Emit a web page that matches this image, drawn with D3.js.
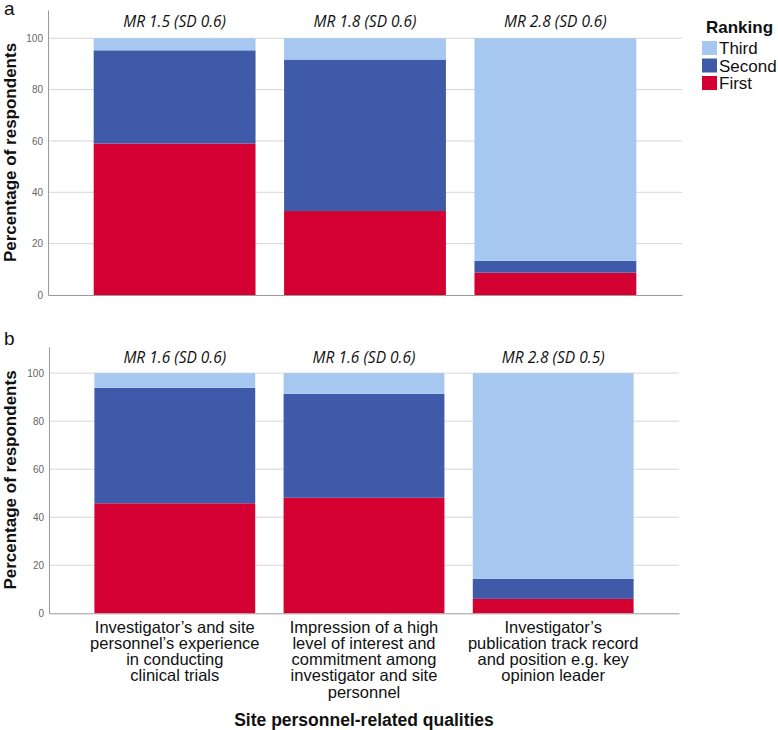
<!DOCTYPE html>
<html>
<head>
<meta charset="utf-8">
<script src="https://cdn.jsdelivr.net/npm/d3@7"></script>
<style>
  body { margin: 0; background: #fff; }
  svg { display: block; font-family: "Liberation Sans", Arial, sans-serif; }
</style>
</head>
<body>
<div id="chart"></div>
<script>
// data
var qualities = ["experience", "interest", "publication"];
var xLabelLines = [
  ["Investigator\u2019s and site", "personnel\u2019s experience", "in conducting", "clinical trials"],
  ["Impression of a high", "level of interest and", "commitment among", "investigator and site", "personnel"],
  ["Investigator\u2019s", "publication track record", "and position e.g. key", "opinion leader"]
];
var rankings = ["First", "Second", "Third"];
var rankColors = ["#d50032", "#3e5aa8", "#a6c8f0"];

// panel a
var firstA  = [59.0, 32.7, 8.7];
var secondA = [36.3, 59.0, 4.6];
var thirdA  = [4.7, 8.3, 86.7];
var mrA = ["MR 1.5 (SD 0.6)", "MR 1.8 (SD 0.6)", "MR 2.8 (SD 0.6)"];

// panel b
var firstB  = [45.8, 48.1, 6.0];
var secondB = [48.1, 43.3, 8.4];
var thirdB  = [6.1, 8.6, 85.6];
var mrB = ["MR 1.6 (SD 0.6)", "MR 1.6 (SD 0.6)", "MR 2.8 (SD 0.5)"];

var yTicks = [0, 20, 40, 60, 80, 100];

var svg = d3.select("#chart").append("svg")
    .attr("width", 778)
    .attr("height", 730);

function drawPanel(letter, first, second, third, mr, box) {
  var rows = qualities.map(function(q, i) {
    return {q: q, First: first[i], Second: second[i], Third: third[i]};
  });

  var x = d3.scaleBand()
      .domain(qualities)
      .range([box.left, box.right])
      .paddingInner(0.15)
      .paddingOuter(0.24);

  var y = d3.scaleLinear()
      .domain([0, 111])
      .range([box.bottom, box.top]);

  // grid lines
  svg.append("g")
    .selectAll("line")
    .data(yTicks.slice(1))
    .enter()
    .append("line")
      .attr("x1", box.left)
      .attr("x2", box.right)
      .attr("y1", function(d) { return y(d); })
      .attr("y2", function(d) { return y(d); })
      .style("stroke", "#d6d6d6")
      .style("stroke-width", 1);

  var stacked = d3.stack().keys(rankings)(rows);

  svg.append("g")
    .selectAll("g")
    .data(stacked)
    .enter()
    .append("g")
      .style("fill", function(d, i) { return rankColors[i]; })
    .selectAll("rect")
    .data(function(d) { return d; })
    .enter()
    .append("rect")
      .attr("x", function(d) { return x(d.data.q); })
      .attr("width", x.bandwidth())
      .attr("y", function(d) { return y(d[1]); })
      .attr("height", function(d) { return y(d[0]) - y(d[1]); });

  // y axis
  var yAxis = svg.append("g")
      .attr("transform", "translate(" + box.left + ",0)")
      .call(d3.axisLeft(y).tickValues(yTicks).tickSize(0).tickPadding(5));
  yAxis.select(".domain").style("stroke", "#9a9a9a");
  yAxis.selectAll("text")
      .style("font-family", "Liberation Sans, Arial, sans-serif")
      .style("font-size", "10px")
      .style("fill", "#666");

  // x axis
  var xAxis = svg.append("g")
      .attr("transform", "translate(0," + box.bottom + ")")
      .call(d3.axisBottom(x).tickSize(0).tickFormat(""));
  xAxis.select(".domain").style("stroke", "#9a9a9a");

  // MR labels
  svg.append("g")
    .selectAll("text")
    .data(mr)
    .enter()
    .append("text")
      .attr("x", function(d, i) { return x(qualities[i]) + x.bandwidth() / 2; })
      .attr("y", box.top + 16.5)
      .attr("text-anchor", "middle")
      .style("font-family", "'Open Sans', sans-serif")
      .style("font-style", "italic")
      .style("font-size", "15.5px")
      .style("fill", "#111")
      .text(function(d) { return d; });

  // panel letter
  svg.append("text")
      .attr("x", 4)
      .attr("y", box.letterY)
      .style("font-size", "19px")
      .style("fill", "#111")
      .text(letter);

  // y title
  svg.append("text")
      .attr("transform", "translate(16," + ((box.top + box.bottom) / 2) + ") rotate(-90)")
      .attr("text-anchor", "middle")
      .style("font-size", "17px")
      .style("font-weight", "bold")
      .style("fill", "#111")
      .text("Percentage of respondents");

  return x;
}

drawPanel("a", firstA, secondA, thirdA, mrA,
  {left: 48, right: 682, top: 10, bottom: 295, letterY: 15});
var xb = drawPanel("b", firstB, secondB, thirdB, mrB,
  {left: 49, right: 679, top: 346.7, bottom: 613.3, letterY: 345});

// category labels under panel b
var lab = svg.append("g")
  .selectAll("text")
  .data(qualities)
  .enter()
  .append("text")
    .attr("text-anchor", "middle")
    .style("font-size", "16.5px")
    .style("fill", "#111");
lab.selectAll("tspan")
  .data(function(d, i) { return xLabelLines[i].map(function(s) { return {s: s, q: d}; }); })
  .enter()
  .append("tspan")
    .attr("x", function(d) { return xb(d.q) + xb.bandwidth() / 2; })
    .attr("y", function(d, j) { return 632.5 + j * 16.3; })
    .text(function(d) { return d.s; });

svg.append("text")
    .attr("x", 364)
    .attr("y", 726)
    .attr("text-anchor", "middle")
    .style("font-size", "17.5px")
    .style("font-weight", "bold")
    .style("fill", "#111")
    .text("Site personnel-related qualities");

// legend
svg.append("text")
    .attr("x", 706)
    .attr("y", 33)
    .style("font-size", "17px")
    .style("font-weight", "bold")
    .style("fill", "#111")
    .text("Ranking");

var legendOrder = ["Third", "Second", "First"];
var leg = svg.append("g")
  .selectAll("g")
  .data(legendOrder)
  .enter()
  .append("g")
    .attr("transform", function(d, i) { return "translate(702," + (41 + i * 17.5) + ")"; });
leg.append("rect")
    .attr("width", 15)
    .attr("height", 14)
    .style("fill", function(d) { return rankColors[rankings.indexOf(d)]; });
leg.append("text")
    .attr("x", 17)
    .attr("y", 13)
    .style("font-size", "17px")
    .style("fill", "#111")
    .text(function(d) { return d; });
</script>
</body>
</html>
